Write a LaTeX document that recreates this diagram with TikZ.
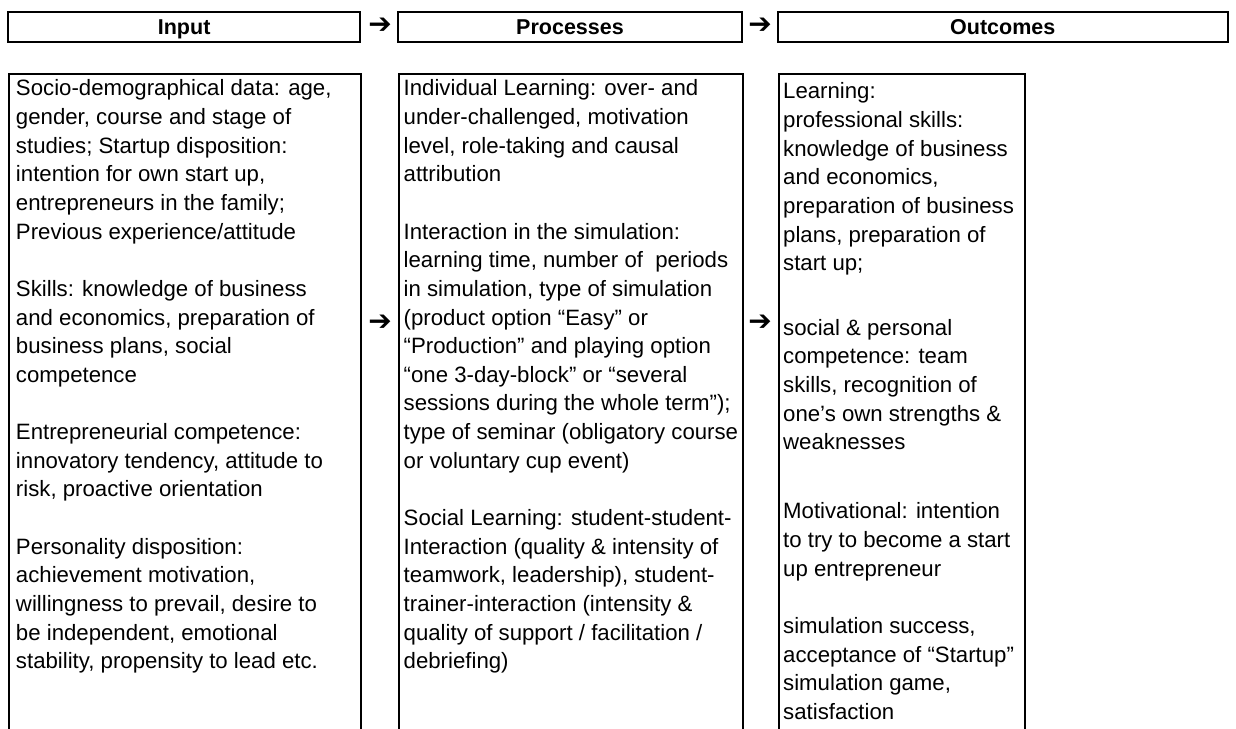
\documentclass[tikz,border=0pt]{standalone}
\usepackage{fontspec}
\setmainfont{Liberation Sans}
\newfontfamily\arrowfont{DejaVu Sans}

% spacing of the text rows inside the three columns
\newlength{\rowpitch}
\setlength{\rowpitch}{28.65pt}
\newcommand{\tline}[1]{\hbox{#1}}
\newcommand{\pgap}[1]{\vskip #1\rowpitch}
\newcommand{\cellbody}[1]{\vtop{\baselineskip=\rowpitch\lineskiplimit=-50pt\lineskip=0pt\relax #1}}

\tikzset{
  frame/.style={draw=black, line width=2pt, inner sep=0pt},
  headbox/.style={frame, minimum height=30pt, text height=15.4pt, text depth=0pt,
    font=\bfseries\fontsize{21.5}{24}\selectfont},
  colbox/.style={frame, anchor=north west, minimum height=720pt},
  coltext/.style={anchor=base west, inner sep=0pt, font=\fontsize{22.2}{28.65}\selectfont},
  flowarrow/.style={inner sep=0pt, font=\arrowfont\fontsize{28}{28}\selectfont}
}

\begin{document}
\begin{tikzpicture}[x=1pt, y=-1pt]
  \useasboundingbox (0,0) rectangle (1236,728);
  \clip (0,0) rectangle (1236,728);

  % headings
  \node[headbox, minimum width=351.7pt] (hin)  at (184.15,27) {Input};
  \node[headbox, minimum width=344pt]   (hpro) at (570,27)    {Processes};
  \node[headbox, minimum width=450.5pt] (hout) at (1002.75,27) {Outcomes};
  \node[flowarrow] (ha1) at (380,26) {➔};
  \node[flowarrow] (ha2) at (760,26) {➔};

  % columns (open at the lower edge of the page)
  \node[colbox, minimum width=351.7pt] (cin)  at (8.3,73) {};
  \node[colbox, minimum width=344pt]   (cpro) at (398,73) {};
  \node[colbox, minimum width=246pt]   (cout) at (777.5,73) {};
  \node[flowarrow] (ca1) at (380,323) {➔};
  \node[flowarrow] (ca2) at (760,323) {➔};

  \node[coltext] (tin) at (15.8,95.8) {\cellbody{%
    \tline{Socio-demographical data: age,}
    \tline{gender, course and stage of}
    \tline{studies; Startup disposition:}
    \tline{intention for own start up,}
    \tline{entrepreneurs in the family;}
    \tline{Previous experience/attitude}
    \pgap{1}
    \tline{Skills: knowledge of business}
    \tline{and economics, preparation of}
    \tline{business plans, social}
    \tline{competence}
    \pgap{1}
    \tline{Entrepreneurial competence:}
    \tline{innovatory tendency, attitude to}
    \tline{risk, proactive orientation}
    \pgap{1}
    \tline{Personality disposition:}
    \tline{achievement motivation,}
    \tline{willingness to prevail, desire to}
    \tline{be independent, emotional}
    \tline{stability, propensity to lead etc.}}};

  \node[coltext] (tpro) at (403.5,95.8) {\cellbody{%
    \tline{Individual Learning: over- and}
    \tline{under-challenged, motivation}
    \tline{level, role-taking and causal}
    \tline{attribution}
    \pgap{1}
    \tline{Interaction in the simulation:}
    \tline{learning time, number of\ \ periods}
    \tline{in simulation, type of simulation}
    \tline{(product option “Easy” or}
    \tline{“Production” and playing option}
    \tline{“one 3-day-block” or “several}
    \tline{sessions during the whole term”);}
    \tline{type of seminar (obligatory course}
    \tline{or voluntary cup event)}
    \pgap{1}
    \tline{Social Learning: student-student-}
    \tline{Interaction (quality \& intensity of}
    \tline{teamwork, leadership), student-}
    \tline{trainer-interaction (intensity \&}
    \tline{quality of support / facilitation /}
    \tline{debriefing)}}};

  \node[coltext] (tout) at (783,98.8) {\cellbody{%
    \tline{Learning:}
    \tline{professional skills:}
    \tline{knowledge of business}
    \tline{and economics,}
    \tline{preparation of business}
    \tline{plans, preparation of}
    \tline{start up;}
    \pgap{1.25}
    \tline{social \& personal}
    \tline{competence: team}
    \tline{skills, recognition of}
    \tline{one’s own strengths \&}
    \tline{weaknesses}
    \pgap{1.41}
    \tline{Motivational: intention}
    \tline{to try to become a start}
    \tline{up entrepreneur}
    \pgap{1.01}
    \tline{simulation success,}
    \tline{acceptance of “Startup”}
    \tline{simulation game,}
    \tline{satisfaction}}};
\end{tikzpicture}
\end{document}
